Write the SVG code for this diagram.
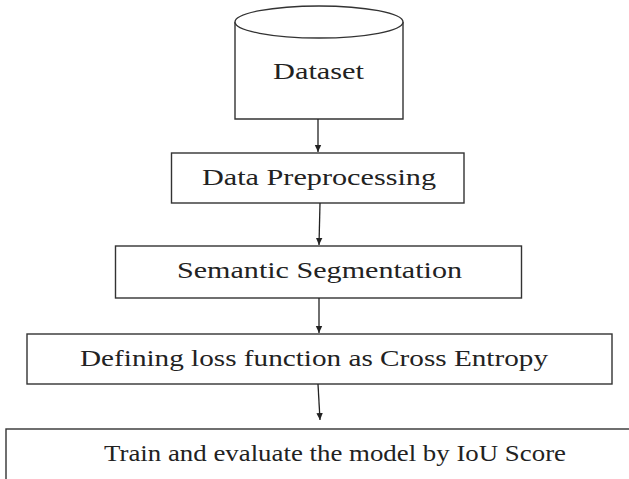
<svg xmlns="http://www.w3.org/2000/svg" width="629" height="479" viewBox="0 0 629 479">
<style>
.box{fill:#fff;stroke:#333;stroke-width:1.4}
.t{font-family:"Liberation Serif","Times New Roman",serif;font-size:23px;fill:#222}
.c{stroke:#222;stroke-width:1.3;fill:none}
</style>
<defs>
<marker id="ah" markerWidth="8" markerHeight="8" refX="7" refY="4" orient="auto" markerUnits="userSpaceOnUse">
<path d="M0,0.8 L7,4 L0,7.2 Z" fill="#222"/>
</marker>
</defs>
<rect width="629" height="479" fill="#fff"/>
<g id="dataset">
<path class="box" d="M235,22 L235,119 L403,119 L403,22"/>
<ellipse class="box" cx="319" cy="22" rx="84" ry="16"/>
<text class="t" x="273" y="79" textLength="91" lengthAdjust="spacingAndGlyphs">Dataset</text>
</g>
<g id="preprocessing">
<rect class="box" x="171.5" y="153" width="292.5" height="50"/>
<text class="t" x="202" y="185" textLength="234" lengthAdjust="spacingAndGlyphs">Data Preprocessing</text>
</g>
<g id="segmentation">
<rect class="box" x="115.5" y="246" width="406" height="52"/>
<text class="t" x="177" y="278" textLength="285" lengthAdjust="spacingAndGlyphs">Semantic Segmentation</text>
</g>
<g id="loss">
<rect class="box" x="27" y="334" width="585" height="50"/>
<text class="t" x="80" y="366" textLength="468" lengthAdjust="spacingAndGlyphs">Defining loss function as Cross Entropy</text>
</g>
<g id="train">
<rect class="box" x="6" y="429" width="640" height="70"/>
<text class="t" x="104" y="461" textLength="462" lengthAdjust="spacingAndGlyphs">Train and evaluate the model by IoU Score</text>
</g>
<g id="connectors">
<line class="c" x1="318" y1="119" x2="318" y2="152" marker-end="url(#ah)"/>
<line class="c" x1="320" y1="203" x2="319" y2="245" marker-end="url(#ah)"/>
<line class="c" x1="319" y1="298" x2="319" y2="333" marker-end="url(#ah)"/>
<line class="c" x1="318" y1="384" x2="320" y2="420" marker-end="url(#ah)"/>
</g>
</svg>
